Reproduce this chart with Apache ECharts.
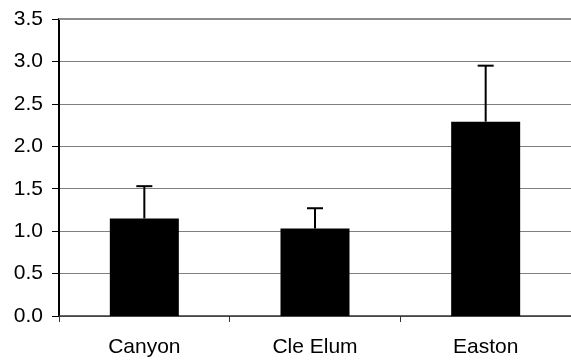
<!DOCTYPE html>
<html>
<head>
<meta charset="utf-8">
<script src="https://cdn.jsdelivr.net/npm/echarts@6/dist/echarts.min.js"></script>
<style>
html,body{margin:0;padding:0;background:#fff;}
#c{width:571px;height:363px;}
</style>
</head>
<body>
<div id="c"></div>
<script>
const categories = ['Canyon', 'Cle Elum', 'Easton'];
const means = [1.15, 1.03, 2.29];
const errorTops = [1.53, 1.27, 2.95];
const yTicks = [0, 0.5, 1.0, 1.5, 2.0, 2.5, 3.0, 3.5];

const chart = echarts.init(document.getElementById('c'), null, {renderer: 'canvas'});
const font = '"Liberation Sans", Arial, sans-serif';
chart.setOption({
  animation: false,
  grid: {left: 59, right: 0, top: 19, bottom: 47, containLabel: false},
  xAxis: {
    type: 'category',
    data: categories,
    axisLine: {lineStyle: {color: '#333', width: 1.5}},
    axisTick: {show: true, length: 6, alignWithLabel: false, lineStyle: {color: '#333'}},
    axisLabel: {color: '#000', fontSize: 21, fontFamily: font, margin: 21}
  },
  yAxis: {
    type: 'value',
    min: yTicks[0],
    max: yTicks[yTicks.length - 1],
    interval: 0.5,
    axisLine: {show: true, lineStyle: {color: '#000', width: 2}},
    axisTick: {show: true, length: 7, lineStyle: {color: '#000'}},
    axisLabel: {color: '#000', fontSize: 21, fontFamily: font, margin: 16,
      formatter: v => v.toFixed(1)},
    splitLine: {lineStyle: {color: '#7f7f7f', width: 1}}
  },
  series: [
    {
      type: 'bar',
      data: means,
      barWidth: 69,
      itemStyle: {color: '#000'},
      z: 2,
      markLine: {
        silent: true,
        symbol: 'none',
        label: {show: false},
        lineStyle: {color: '#8c8c8c', width: 2, type: 'solid'},
        data: [{yAxis: yTicks[yTicks.length - 1]}]
      }
    },
    {
      type: 'custom',
      z: 3,
      data: categories.map((c, i) => [i, means[i], errorTops[i]]),
      renderItem: function (params, api) {
        const base = api.coord([api.value(0), api.value(1)]);
        const top = api.coord([api.value(0), api.value(2)]);
        const half = 8;
        return {
          type: 'group',
          children: [
            {type: 'line', shape: {x1: base[0], y1: base[1], x2: top[0], y2: top[1]},
              style: {stroke: '#000', lineWidth: 2}},
            {type: 'line', shape: {x1: top[0] - half, y1: top[1], x2: top[0] + half, y2: top[1]},
              style: {stroke: '#000', lineWidth: 2}}
          ]
        };
      }
    }
  ]
});
</script>
</body>
</html>
